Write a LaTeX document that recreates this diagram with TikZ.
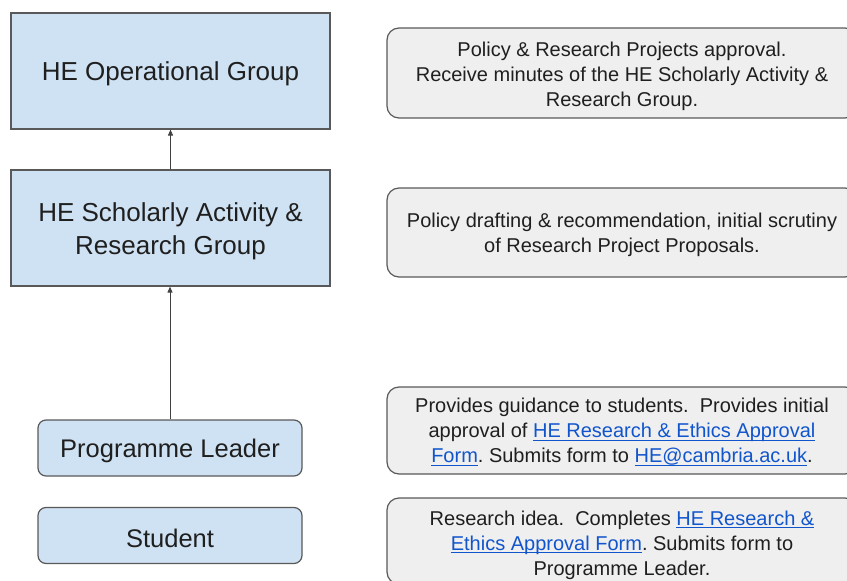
\documentclass[tikz,border=0pt]{standalone}
\usepackage{fontspec}
\setmainfont{Liberation Sans}
\usetikzlibrary{arrows.meta}
\definecolor{boxblue}{HTML}{CFE2F3}
\definecolor{boxgrey}{HTML}{EFEFEF}
\definecolor{edgegrey}{HTML}{595959}
\definecolor{linkblue}{HTML}{1155CC}
\definecolor{inkdark}{HTML}{1F1F1F}
% blue underlined link text: a thin rule just below the baseline
\newcommand{\weblink}[1]{{\color{linkblue}\setbox0=\hbox{#1}%
  \rlap{\vrule height -2.2pt depth 3pt width \wd0}\box0}}
% invisible strut that sets the top of the first line
\newcommand{\topstrut}[1]{\rule{0pt}{#1}}
\frenchspacing
\begin{document}
\begin{tikzpicture}[x=1pt,y=-1pt,
  every node/.style={text=inkdark},
  groupbox/.style={draw=edgegrey, line width=1.2pt, fill=boxblue,
    minimum width=319pt, minimum height=116pt, align=center,
    font=\fontsize{26}{33}\selectfont, inner sep=0pt,
    execute at begin node={\topstrut{25pt}}},
  rolebox/.style={groupbox, rounded corners=8pt,
    minimum width=264pt, minimum height=56pt,
    font=\fontsize{25.5}{33}\selectfont},
  notebox/.style={draw=edgegrey, line width=1.2pt, fill=boxgrey,
    rounded corners=12pt, minimum width=470pt, align=center,
    font=\fontsize{20}{25}\selectfont, inner sep=0pt},
  uparrow/.style={draw=inkdark!85, line width=0.9pt,
    -{Triangle[length=6pt,width=5pt]}}]
\useasboundingbox (0,0) rectangle (847,581);
\clip (0,0) rectangle (847,581);

% left column: groups and roles
\node[groupbox] (op)  at (170.5,71)  {HE Operational Group};
\node[groupbox] (sar) at (170.5,228)
  {\topstrut{26pt}HE Scholarly Activity \&\\Research Group};
\node[rolebox]  (pl)  at (170,448)   {Programme Leader};
\node[rolebox]  (st)  at (170,535.5) {Student};

% reporting line
\draw[uparrow] (pl.north) -- (pl.north |- sar.south);
\draw[uparrow] (sar.north) -- (sar.north |- op.south);

% right column: responsibilities
\node[notebox, minimum height=90pt] (r1) at (622,73)
  {\topstrut{20.6pt}Policy \& Research Projects approval.\\
   Receive minutes of the HE Scholarly Activity \&\\
   Research Group.};
\node[notebox, minimum height=89pt] (r2) at (622,232.5)
  {\topstrut{18.6pt}Policy drafting \& recommendation, initial scrutiny\\
   of Research Project Proposals.};
\node[notebox, minimum height=87pt] (r3) at (622,430.5)
  {\topstrut{16.6pt}Provides guidance to students.\ \ Provides initial\\
   approval of \weblink{HE Research \& Ethics Approval}\\
   \weblink{Form}. Submits form to \weblink{HE@cambria.ac.uk}.};
\node[notebox, minimum height=86pt] (r4) at (622,541)
  {\topstrut{22.6pt}Research idea.\ \ Completes \weblink{HE Research \&}\\
   \weblink{Ethics Approval Form}. Submits form to\\
   Programme Leader.};
\end{tikzpicture}
\end{document}
